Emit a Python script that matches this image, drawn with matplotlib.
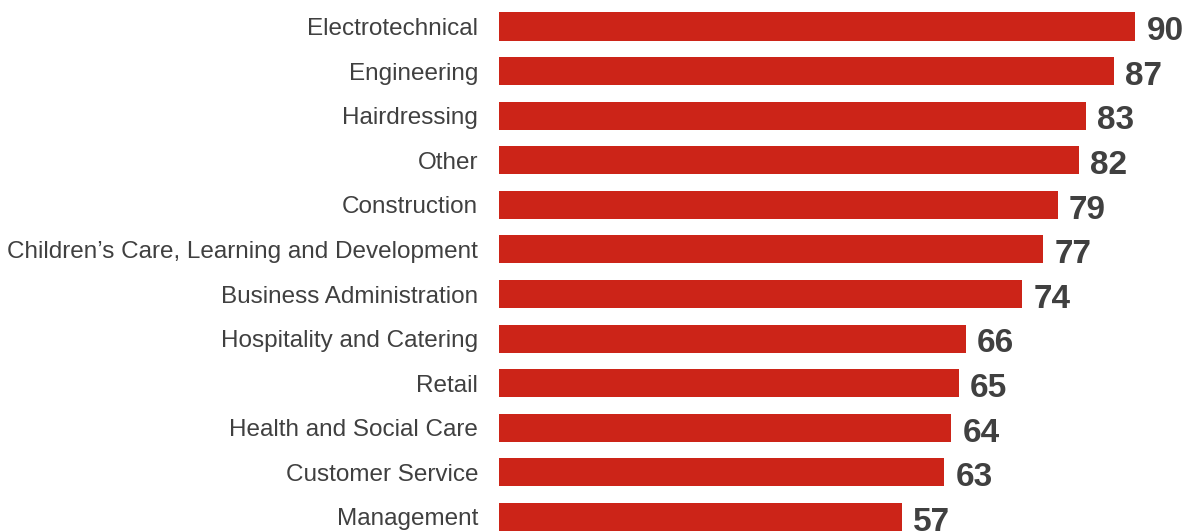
import numpy as np
import matplotlib.pyplot as plt

plt.rcParams['font.family'] = ['Liberation Sans', 'DejaVu Sans']

sectors = ['Electrotechnical', 'Engineering', 'Hairdressing', 'Other',
           'Construction', 'Children\u2019s Care, Learning and Development',
           'Business Administration', 'Hospitality and Catering', 'Retail',
           'Health and Social Care', 'Customer Service', 'Management']
scores = [90, 87, 83, 82, 79, 77, 74, 66, 65, 64, 63, 57]

red = '#cc2418'
dark = '#404040'

fig = plt.figure(figsize=(11.94, 5.31), dpi=100)
ax = fig.add_axes([499 / 1194, 0, 1 - 499 / 1194, 1])

y = np.arange(len(sectors))
ax.barh(y, scores, height=0.63, color=red)

for i, v in enumerate(scores):
    ax.text(v + 1.6, i + 0.04, str(v), va='center_baseline', ha='left',
            fontsize=24, fontweight='bold', color=dark)

ax.set_yticks(y)
ax.set_yticklabels(sectors, fontsize=17.5, color=dark)
ax.tick_params(axis='y', length=0, pad=15)
ax.set_xticks([])
ax.set_xlim(0, 98.3)
ax.set_ylim(11.314, -0.594)
for s in ax.spines.values():
    s.set_visible(False)

fig.savefig('out.png', dpi=100)
